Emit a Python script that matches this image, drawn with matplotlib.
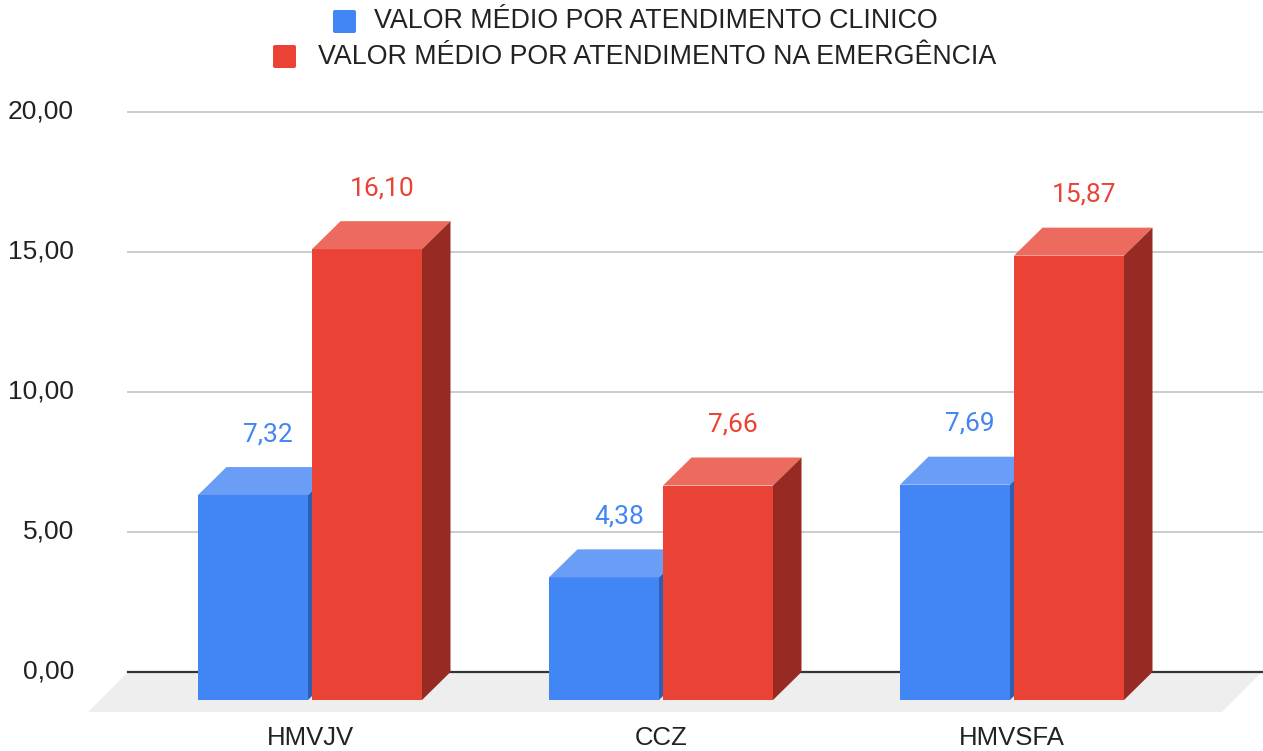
import matplotlib.pyplot as plt
from matplotlib.patches import Polygon, Rectangle, FancyBboxPatch

categories = ['HMVJV', 'CCZ', 'HMVSFA']
clinico = [7.32, 4.38, 7.69]
emergencia = [16.10, 7.66, 15.87]
series_names = ['VALOR MÉDIO POR ATENDIMENTO CLINICO',
                'VALOR MÉDIO POR ATENDIMENTO NA EMERGÊNCIA']
yticks = [0, 5, 10, 15, 20]
ytick_labels = ['0,00', '5,00', '10,00', '15,00', '20,00']

# face colours: front, top, side
BLUE = ('#4285f4', '#6a9ef6', '#2f5fb3')
RED = ('#ea4335', '#ed6a5e', '#982a24')
TEXT = '#222222'
W, H = 1263, 751


def fmt(v):
    return ('%.2f' % v).replace('.', ',')


fig = plt.figure(figsize=(W / 100, H / 100), dpi=100)

# plot area: 351 px per category, 28 px per unit
px_x = 1 / 351.0
px_y = 1 / 28.0
ax = fig.add_axes([128 / W, (H - 672) / H, 1134 / W, 560 / H])
xmin, xmax = -182 * px_x, 952 * px_x
ax.set_xlim(xmin, xmax)
ax.set_ylim(0, 20)
ax.axis('off')

bar_w = 110 * px_x
gap = 4 * px_x
dx, dy = 28.5 * px_x, 28 * px_y
floor_dx, floor_dy = 40 * px_x, 40 * px_y

# floor
ax.add_patch(Polygon([(xmin, 0), (xmax, 0), (xmax - floor_dx, -floor_dy), (xmin - floor_dx, -floor_dy)],
                     closed=True, facecolor='#eeeeee', edgecolor='none', clip_on=False, zorder=0))

# gridlines and y labels
for t, lab in zip(yticks, ytick_labels):
    if t == 0:
        ax.plot([xmin, xmax], [t, t], color='#333333', lw=1.6, zorder=1, clip_on=False)
    else:
        ax.plot([xmin, xmax], [t, t], color='#cccccc', lw=1.4, zorder=1, clip_on=False)
    ax.text(-54 / 1134, t, lab, transform=ax.get_yaxis_transform(), ha='right', va='center',
            fontsize=19, color=TEXT, family='Liberation Sans')


def draw_bar(x0, v, colors):
    x1 = x0 + bar_w
    front, top, side = colors
    ax.add_patch(Rectangle((x0, -dy), bar_w, v, facecolor=front, edgecolor='none', zorder=3, clip_on=False))
    ax.add_patch(Polygon([(x0, v - dy), (x1, v - dy), (x1 + dx, v), (x0 + dx, v)],
                         closed=True, facecolor=top, edgecolor='none', zorder=3, clip_on=False))
    ax.add_patch(Polygon([(x1, -dy), (x1 + dx, 0), (x1 + dx, v), (x1, v - dy)],
                         closed=True, facecolor=side, edgecolor='none', zorder=3, clip_on=False))
    ax.text(x0 + bar_w / 2 + 15 * px_x, v + 21 * px_y, fmt(v), ha='center', va='bottom',
            fontsize=19, color=front, family='Roboto', zorder=4)


for i, cat in enumerate(categories):
    draw_bar(i - gap / 2 - bar_w, clinico[i], BLUE)
    draw_bar(i + gap / 2, emergencia[i], RED)
    ax.text(i, -(738 - 672) * px_y, cat, ha='center', va='center', fontsize=18.5,
            color=TEXT, family='Liberation Sans')

# legend drawn in pixel space on top
lg = fig.add_axes([0, 0, 1, 1])
lg.set_xlim(0, W)
lg.set_ylim(H, 0)
lg.axis('off')
for (sx, sy, tx), name, col in zip([(333, 10, 374), (273, 45, 318)], series_names, [BLUE[0], RED[0]]):
    lg.add_patch(FancyBboxPatch((sx, sy), 23, 23, boxstyle='round,pad=0,rounding_size=2',
                                facecolor=col, edgecolor='none'))
    lg.text(tx, sy + 11.5, name, ha='left', va='center', fontsize=19.3, color=TEXT,
            family='Liberation Sans')

fig.savefig('out.png', dpi=100)
